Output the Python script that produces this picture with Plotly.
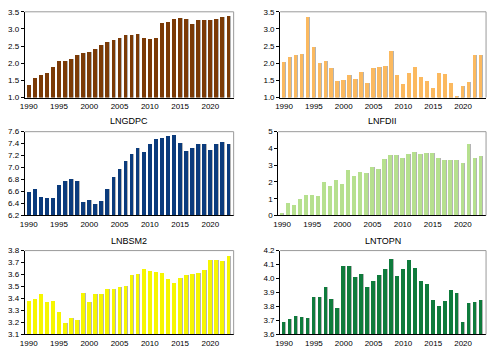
import plotly.graph_objects as go
from plotly.subplots import make_subplots

years = list(range(1990, 2024))

top_left = [1.38, 1.57, 1.67, 1.71, 1.90, 2.07, 2.07, 2.12, 2.24, 2.31, 2.33, 2.43,
            2.55, 2.62, 2.67, 2.73, 2.82, 2.82, 2.85, 2.74, 2.72, 2.74, 3.19, 3.21,
            3.31, 3.32, 3.31, 3.16, 3.27, 3.27, 3.27, 3.31, 3.35, 3.38]
top_right = [2.05, 2.20, 2.26, 2.28, 3.35, 2.47, 2.00, 2.06, 1.88, 1.49, 1.52, 1.65,
             1.56, 1.76, 1.44, 1.88, 1.90, 1.94, 2.37, 1.65, 1.41, 1.71, 1.91, 1.61,
             1.50, 1.28, 1.71, 1.68, 1.43, 1.05, 1.35, 1.47, 2.26, 2.26]
lngdpc = [6.59, 6.64, 6.51, 6.49, 6.49, 6.71, 6.79, 6.81, 6.79, 6.43, 6.46, 6.40,
          6.45, 6.65, 6.85, 6.99, 7.12, 7.24, 7.34, 7.27, 7.40, 7.49, 7.50, 7.54,
          7.55, 7.41, 7.29, 7.33, 7.40, 7.40, 7.30, 7.40, 7.43, 7.40]
lnfdii = [0.17, 0.75, 0.65, 0.98, 1.27, 1.27, 1.21, 2.02, 1.79, 2.13, 1.90, 2.71,
          2.37, 2.60, 2.54, 2.94, 2.77, 3.37, 3.65, 3.60, 3.46, 3.71, 3.83, 3.71,
          3.77, 3.77, 3.42, 3.31, 3.35, 3.31, 3.17, 4.29, 3.42, 3.54]
lnbsm2 = [3.381, 3.402, 3.438, 3.378, 3.386, 3.288, 3.195, 3.239, 3.223, 3.452,
          3.372, 3.438, 3.438, 3.484, 3.484, 3.500, 3.509, 3.601, 3.607, 3.648,
          3.631, 3.623, 3.615, 3.566, 3.533, 3.571, 3.599, 3.607, 3.615, 3.640,
          3.721, 3.721, 3.713, 3.762]
lntopn = [3.691, 3.715, 3.736, 3.729, 3.724, 3.872, 3.869, 3.940, 3.858, 3.794,
          4.092, 4.096, 4.012, 4.033, 3.942, 3.984, 4.026, 4.068, 4.146, 4.022,
          4.068, 4.139, 4.080, 3.984, 3.965, 3.851, 3.808, 3.844, 3.921, 3.902,
          3.691, 3.825, 3.837, 3.851]

titles = ["", "", "LNGDPC", "LNFDII", "LNBSM2", "LNTOPN"]
series = [top_left, top_right, lngdpc, lnfdii, lnbsm2, lntopn]
colors = ["#7b3a06", "#fbb95f", "#0b3b7c", "#b6e08e", "#f6f600", "#0f7b3c"]
yranges = [(1.0, 3.5), (1.0, 3.5), (6.2, 7.6), (0, 5), (3.1, 3.8), (3.6, 4.2)]
ydticks = [0.5, 0.5, 0.2, 1, 0.1, 0.1]
yformats = [".1f", ".1f", ".1f", "d", ".1f", ".1f"]

W, H = 491, 355
xdoms = [[(20, 231), (278, 486)], [(20, 231), (276, 486)], [(20, 231), (278, 486)]]
ydoms_px = [(8, 96), (131, 217), (253, 339)]
title_y_px = [None, 120, 243]

fig = make_subplots(rows=3, cols=2)
shapes = []
annotations = []
for i in range(6):
    r, c = i // 2, i % 2
    row, col = r + 1, c + 1
    # shadow
    fig.add_trace(go.Bar(x=years, y=series[i], width=0.62, offset=-0.25,
                         marker=dict(color="#b4b4b4", line=dict(width=0)),
                         base=0, showlegend=False, hoverinfo="skip"), row=row, col=col)
    fig.add_trace(go.Bar(x=years, y=series[i], width=0.62, offset=-0.36,
                         marker=dict(color=colors[i], line=dict(width=0)),
                         base=0, showlegend=False), row=row, col=col)
    x0, x1 = xdoms[r][c]
    y0, y1 = ydoms_px[r]
    xd = [x0 / W, x1 / W]
    yd = [1 - y1 / H, 1 - y0 / H]
    fig.update_xaxes(domain=xd, range=[1989.35, 2023.85], tickvals=list(range(1990, 2021, 5)),
                     showgrid=False, zeroline=False, showline=True, linecolor="black",
                     linewidth=1, ticks="", ticklabelstandoff=1,
                     tickfont=dict(family="Liberation Sans, Arial", size=8, color="black"),
                     row=row, col=col)
    fig.update_yaxes(domain=yd, range=list(yranges[i]), dtick=ydticks[i], tick0=yranges[i][0],
                     tickformat=yformats[i], showgrid=False, zeroline=False, showline=True,
                     linecolor="black", linewidth=1, ticks="outside", ticklen=3,
                     tickcolor="black",
                     tickfont=dict(family="Liberation Sans, Arial", size=8, color="black"),
                     row=row, col=col)
    idx = i + 1
    xr = "x" if idx == 1 else f"x{idx}"
    yr = "y" if idx == 1 else f"y{idx}"
    shapes.append(dict(type="line", xref=f"{xr} domain", yref=f"{yr} domain",
                       x0=0, x1=1, y0=1, y1=1, line=dict(color="#9a9a9a", width=1)))
    shapes.append(dict(type="line", xref=f"{xr} domain", yref=f"{yr} domain",
                       x0=1, x1=1, y0=0, y1=1, line=dict(color="#9a9a9a", width=1)))
    if titles[i]:
        annotations.append(dict(text=titles[i], xref="paper", yref="paper",
                                x=(x0 + x1) / 2 / W, y=1 - title_y_px[r] / H,
                                xanchor="center", yanchor="middle", showarrow=False,
                                font=dict(family="Liberation Sans, Arial", size=9, color="black")))

fig.update_layout(width=W, height=H, margin=dict(l=0, r=0, t=0, b=0),
                  paper_bgcolor="white", plot_bgcolor="white", barmode="overlay",
                  bargap=0, shapes=shapes, annotations=annotations, showlegend=False)
fig.write_html("out.html")
